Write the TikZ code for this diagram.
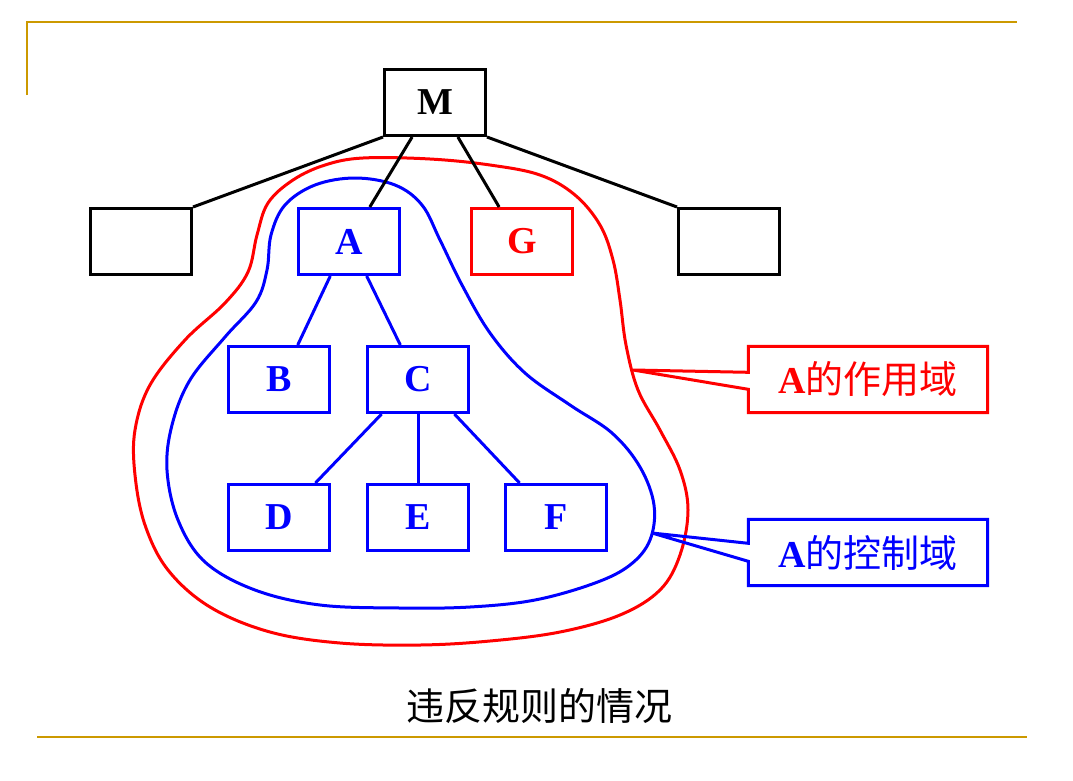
\documentclass[tikz,border=0pt]{standalone}
\usepackage{fontspec}
\setmainfont{Liberation Serif}
\newfontfamily\cjk{Noto Sans CJK SC}
\usetikzlibrary{calc}
\definecolor{gold}{HTML}{CC9900}
\definecolor{pblue}{HTML}{0000FF}
\definecolor{pred}{HTML}{FF0000}
\begin{document}
\begin{tikzpicture}[x=1pt,y=-1pt,
  box/.style={draw,line width=3pt,minimum width=101pt,minimum height=66pt,inner sep=0pt,
    font=\fontsize{38}{38}\selectfont\bfseries},
  bbox/.style={box,draw=pblue,text=pblue},
  rbox/.style={box,draw=pred,text=pred},
  kbox/.style={box,draw=black,text=black},
  link/.style={line width=3pt},
  frame/.style={gold,line width=2.4pt},
  region/.style={line width=3pt,smooth cycle,tension=0.6},
  callout/.style={line width=3pt,line join=miter},
  ctext/.style={inner sep=0pt,minimum width=239pt,minimum height=66pt,font=\fontsize{38}{38}\selectfont}
]
\useasboundingbox (0,0) rectangle (1073,780);
% frame lines
\coordinate (f1) at (27,95);
\coordinate (f2) at (27,22);
\coordinate (f3) at (1017,22);
\draw[frame] (f1) -- (f2) -- (f3);
\coordinate (g1) at (37,737);
\coordinate (g2) at (1027,737);
\draw[frame] (g1) -- (g2);

% regions
\draw[region,pred] plot coordinates {(363,158) (430,159) (490,165) (540,175) (575,195) (600,225) (613,260) (620,300) (626,345) (638,390) (660,430) (680,470) (688,510) (680,555) (660,590) (620,615) (560,632) (490,641) (420,645) (340,643) (270,632) (210,607) (168,570) (145,525) (135,475) (135,430) (150,385) (185,340) (225,303) (248,272) (257,235) (268,203) (293,180) (325,165)};
\draw[region,pblue] plot coordinates {(355,178) (395,185) (422,205) (440,240) (462,285) (490,333) (525,373) (570,405) (612,433) (640,467) (654,505) (650,540) (630,565) (595,583) (535,600) (470,607) (400,608) (320,605) (255,590) (205,562) (178,520) (167,470) (172,425) (190,380) (225,337) (256,302) (267,270) (271,235) (285,205) (315,185)};

% boxes
\node[kbox] (M) at (435,102.5) {M};
\node[kbox] (L) at (141,241.5) {};
\node[kbox] (R) at (729,241.5) {};
\node[bbox] (A) at (349,241.5) {A};
\node[rbox] (G) at (522,241.5) {G};
\node[bbox] (B) at (279,379.5) {B};
\node[bbox] (C) at (418,379.5) {C};
\node[bbox] (D) at (279,517.5) {D};
\node[bbox] (E) at (418,517.5) {E};
\node[bbox] (F) at (556,517.5) {F};

% links
\draw[link] (M.south west) -- (L.north east);
\draw[link] (M.south east) -- (R.north west);
\draw[link] ($(M.south west)!0.28!(M.south east)$) -- ($(A.north west)!0.7!(A.north east)$);
\draw[link] ($(M.south west)!0.72!(M.south east)$) -- ($(G.north west)!0.28!(G.north east)$);
\draw[link,pblue] ($(A.south west)!0.32!(A.south east)$) -- ($(B.north west)!0.68!(B.north east)$);
\draw[link,pblue] ($(A.south west)!0.67!(A.south east)$) -- ($(C.north west)!0.33!(C.north east)$);
\draw[link,pblue] ($(C.south west)!0.15!(C.south east)$) -- ($(D.north west)!0.85!(D.north east)$);
\draw[link,pblue] (C.south) -- (E.north);
\draw[link,pblue] ($(C.south west)!0.85!(C.south east)$) -- ($(F.north west)!0.15!(F.north east)$);

% callouts
\node[ctext,text=pred] (RC) at (868,379.5) {{\bfseries A}{\cjk 的作用域}};
\coordinate (rtip) at (633,370);
\draw[callout,pred] (RC.north west) -- ($(RC.north west)+(0,26)$) -- (rtip) -- ($(RC.north west)+(0,43)$) -- (RC.south west) -- (RC.south east) -- (RC.north east) -- cycle;
\node[ctext,text=pblue] (BC) at (868,552.5) {{\bfseries A}{\cjk 的控制域}};
\coordinate (btip) at (652,533);
\draw[callout,pblue] (BC.north west) -- ($(BC.north west)+(0,24)$) -- (btip) -- ($(BC.north west)+(0,42)$) -- (BC.south west) -- (BC.south east) -- (BC.north east) -- cycle;

% caption
\node[inner sep=0pt,font=\cjk\fontsize{38}{38}\selectfont] (cap) at (539,706) {违反规则的情况};
\end{tikzpicture}
\end{document}
